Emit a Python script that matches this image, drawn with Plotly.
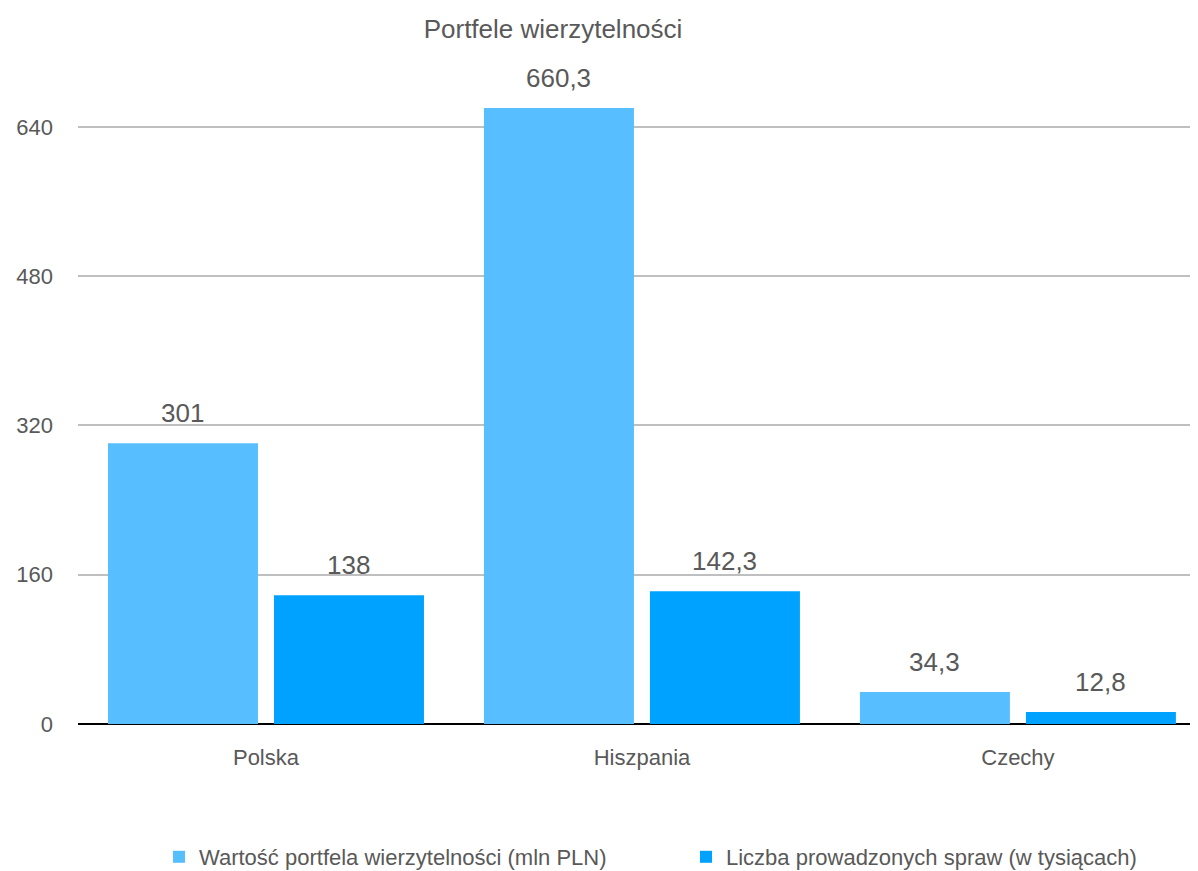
import plotly.graph_objects as go

categories = ["Polska", "Hiszpania", "Czechy"]
series_names = ["Wartość portfela wierzytelności (mln PLN)", "Liczba prowadzonych spraw (w tysiącach)"]
values_portfolio = [301, 660.3, 34.3]
values_cases = [138, 142.3, 12.8]
y_ticks = [0, 160, 320, 480, 640]
colors = ["#57BFFF", "#00A2FF"]

FONT = "Liberation Sans Narrow, Arial Narrow, Liberation Sans, Arial, sans-serif"
GRAY = "#595959"
BARGAP = 0.117
BARGROUPGAP = 0.0964

# page body has an 8px margin; figure is sized so it fits the window
W, H = 1190, 863


def fmt(v):
    s = ("%g" % v)
    return s.replace(".", ",")


fig = go.Figure()
for name, vals, col in zip(series_names, [values_portfolio, values_cases], colors):
    fig.add_trace(go.Bar(
        x=categories, y=vals, name=name,
        marker=dict(color=col, line=dict(width=0)),
    ))

# data labels as annotations, above each bar
slot = (1 - BARGAP) / 2
for si, vals in enumerate([values_portfolio, values_cases]):
    off = -slot / 2 if si == 0 else slot / 2
    for ci, v in enumerate(vals):
        fig.add_annotation(
            x=ci + off, y=v, xref="x", yref="y",
            text=fmt(v), showarrow=False, yanchor="bottom", yshift=13,
            font=dict(family=FONT, size=26, color=GRAY),
        )

fig.update_layout(
    width=W, height=H,
    margin=dict(l=70, r=0, t=63, b=147, autoexpand=False),
    paper_bgcolor="white", plot_bgcolor="white",
    barmode="group", bargap=BARGAP, bargroupgap=BARGROUPGAP,
    title=dict(text="Portfele wierzytelności", x=545 / W, xanchor="center",
               y=1 - 21 / H, yanchor="middle",
               font=dict(family=FONT, size=26, color=GRAY)),
    font=dict(family=FONT, size=22, color=GRAY),
    showlegend=True,
    legend=dict(orientation="h", xref="container", yref="container",
                x=151 / W, xanchor="left", y=1 - 849 / H, yanchor="middle",
                font=dict(family=FONT, size=22, color=GRAY),
                entrywidth=482, entrywidthmode="pixels",
                itemwidth=30, bgcolor="rgba(0,0,0,0)"),
)
fig.update_xaxes(
    type="category", range=[-0.5, 2.479], showgrid=False, automargin=False,
    showline=False, ticks="", tickfont=dict(family=FONT, size=22, color=GRAY),
    ticklabelstandoff=18,
)
fig.update_yaxes(
    range=[0, 700], tickvals=y_ticks, ticktext=[str(t) for t in y_ticks],
    showgrid=True, gridcolor="#BFBFBF", gridwidth=2, automargin=False,
    zeroline=True, zerolinecolor="#000000", zerolinewidth=2,
    showline=False, ticks="", tickfont=dict(family=FONT, size=22, color=GRAY),
    ticklabelstandoff=24,
)

fig.write_html("out.html")
